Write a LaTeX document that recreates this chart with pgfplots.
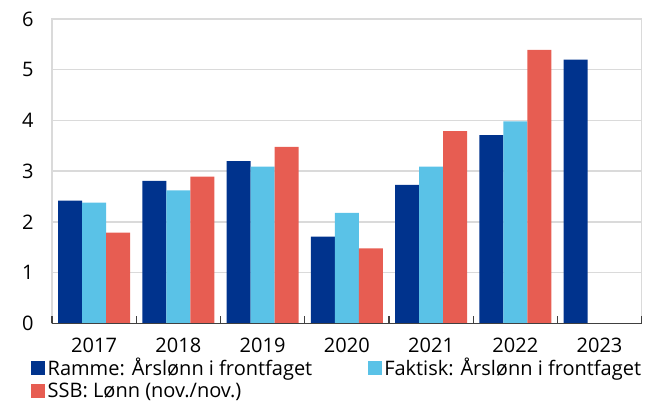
\documentclass[border=0pt]{standalone}
\usepackage{fontspec}
\setmainfont{Open Sans}
\usepackage{pgfplots}
\pgfplotsset{compat=1.18}
\definecolor{nbdark}{HTML}{00338D}
\definecolor{nblight}{HTML}{5AC2E7}
\definecolor{nbred}{HTML}{E75D52}
\definecolor{gridgray}{HTML}{DADADA}
\definecolor{axisdark}{HTML}{404040}
\begin{document}
\begin{tikzpicture}
\begin{axis}[
  scale only axis,
  width=590pt, height=304.5pt,
  clip=false,
  ybar=0pt,
  bar width=0.285,
  xmin=2016.5, xmax=2023.5,
  ymin=0, ymax=6,
  ytick={0,1,2,3,4,5,6},
  xtick={2017,2018,2019,2020,2021,2022,2023},
  major tick length=0pt,
  tick align=inside,
  xtick pos=bottom,
  ytick pos=left,
  extra x ticks={2016.5,2017.5,2018.5,2019.5,2020.5,2021.5,2022.5,2023.5},
  extra x tick labels={},
  extra x tick style={major tick length=7pt, tick style={draw=axisdark, line width=1.3pt}, grid=none},
  ymajorgrids,
  grid style={draw=gridgray, line width=1.5pt},
  axis line style={draw=gridgray, line width=1.5pt},
  /pgf/number format/.cd, 1000 sep={}, assume math mode=true,
  /pgfplots/.cd,
  tick label style={font=\fontsize{20}{23}\selectfont},
  yticklabel style={xshift=-15pt},
  xticklabel style={yshift=-11pt},
  legend columns=2,
  legend cell align=left,
  legend style={draw=none, fill=none, inner sep=0pt, at={(-0.0356,-0.106)}, anchor=north west,
    font=\fontsize{20}{23}\selectfont, nodes={inner sep=2.5pt},
    /tikz/every even column/.append style={column sep=53pt}, row sep=1pt},
  legend image code/.code={\fill[#1,draw=none] (0pt,-7pt) rectangle (14pt,7pt);},
]
\addplot[fill=nbdark, draw=none] coordinates {(2017,2.42) (2018,2.81) (2019,3.20) (2020,1.71) (2021,2.73) (2022,3.71) (2023,5.20)};
\addplot[fill=nblight, draw=none] coordinates {(2017,2.38) (2018,2.62) (2019,3.09) (2020,2.18) (2021,3.09) (2022,3.98)};
\addplot[fill=nbred, draw=none] coordinates {(2017,1.79) (2018,2.89) (2019,3.48) (2020,1.48) (2021,3.79) (2022,5.39)};
\legend{Ramme: Årslønn i frontfaget, Faktisk: Årslønn i frontfaget, SSB: Lønn (nov./nov.)}
\draw[axisdark, line width=1.5pt] (axis cs:2016.5,0) -- (axis cs:2023.5,0);
\path (rel axis cs:-0.08814,-0.26765) rectangle (rel axis cs:1.00508,1.0624);
\end{axis}
\end{tikzpicture}
\end{document}
